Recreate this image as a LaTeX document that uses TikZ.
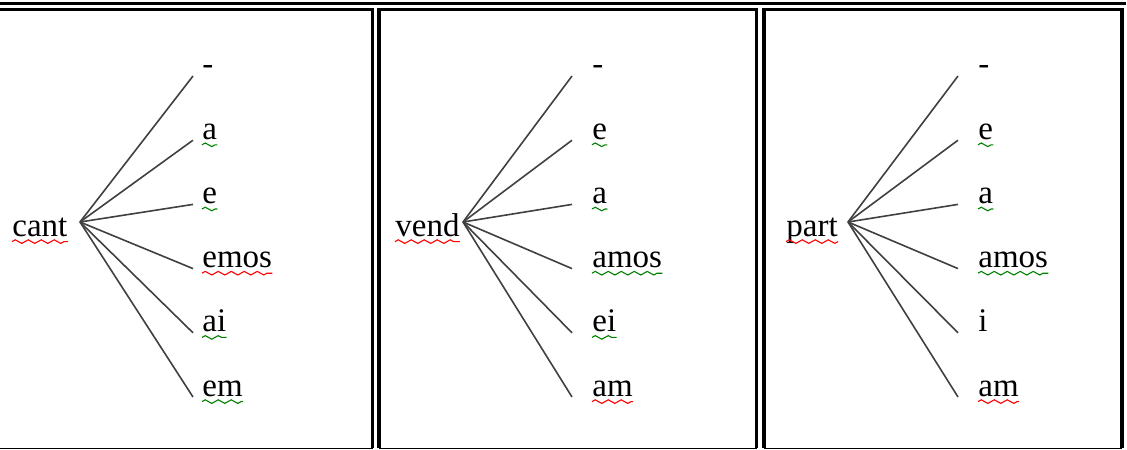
\documentclass[tikz,border=0pt]{standalone}
\usepackage{fontspec}
\setmainfont{Liberation Serif}
\usepackage{tikz}
\usetikzlibrary{positioning, calc, decorations.pathmorphing}

\begin{document}
\begin{tikzpicture}[x=0.5pt, y=-0.5pt,
    word/.style={inner sep=0pt, anchor=base west, font=\fontsize{16.5}{20}\selectfont},
    branch/.style={draw=black!75, line width=0.8pt},
    frame/.style={line width=1.6pt},
    bottomrule/.style={line width=0.5pt},
    squiggle/.style={draw=#1, line width=0.55pt, decorate,
        decoration={zigzag, amplitude=0.9pt, segment length=6.5pt}}]
    \useasboundingbox (0,0) rectangle (1127,449);
    \clip (0,0) rectangle (1127,449);

    % table rules
    \draw[frame] (0,3.5) -- (1126,3.5);
    \draw[frame] (-5,9.5) -- (372.5,9.5) -- (372.5,448);
    \draw[frame] (379,448) -- (379,9.5) -- (756.5,9.5) -- (756.5,448);
    \draw[frame] (764,448) -- (764,9.5) -- (1122,9.5) -- (1122,448);
    \draw[bottomrule] (-5,448) -- (372.5,448);
    \draw[bottomrule] (379,448) -- (756.5,448);
    \draw[bottomrule] (764,448) -- (1122,448);

    % cant
    \node[word] (cant) at (12,236) {cant};
    \draw[squiggle=red] ([yshift=-2.8pt]cant.base west) -- ([yshift=-2.8pt]cant.base east);
    \coordinate (hubA) at (80,222);
    \foreach \s/\c [count=\i] in {-/none, a/green!50!black, e/green!50!black, emos/red, ai/green!50!black, em/green!50!black}{
        \node[word] (a\i) at (202,{75+(\i-1)*64.2}) {\s};
        \draw[branch] (hubA) -- ([xshift=-4.5pt,yshift=-0.5pt]a\i.base west);
        \draw[squiggle=\c] ([yshift=-2.8pt]a\i.base west) -- ([yshift=-2.8pt]a\i.base east);
    }

    % vend
    \node[word] (vend) at (395,236) {vend};
    \draw[squiggle=red] ([yshift=-2.8pt]vend.base west) -- ([yshift=-2.8pt]vend.base east);
    \coordinate (hubB) at (463,222);
    \foreach \s/\c [count=\i] in {-/none, e/green!50!black, a/green!50!black, amos/green!50!black, ei/green!50!black, am/red}{
        \node[word] (b\i) at (592,{75+(\i-1)*64.2}) {\s};
        \draw[branch] (hubB) -- ([xshift=-10pt,yshift=-0.5pt]b\i.base west);
        \draw[squiggle=\c] ([yshift=-2.8pt]b\i.base west) -- ([yshift=-2.8pt]b\i.base east);
    }

    % part
    \node[word] (part) at (786,236) {part};
    \draw[squiggle=red] ([yshift=-2.8pt]part.base west) -- ([yshift=-2.8pt]part.base east);
    \coordinate (hubC) at (848,222);
    \foreach \s/\c [count=\i] in {-/none, e/green!50!black, a/green!50!black, amos/green!50!black, i/none, am/red}{
        \node[word] (c\i) at (978,{75+(\i-1)*64.2}) {\s};
        \draw[branch] (hubC) -- ([xshift=-10pt,yshift=-0.5pt]c\i.base west);
        \draw[squiggle=\c] ([yshift=-2.8pt]c\i.base west) -- ([yshift=-2.8pt]c\i.base east);
    }
\end{tikzpicture}
\end{document}
